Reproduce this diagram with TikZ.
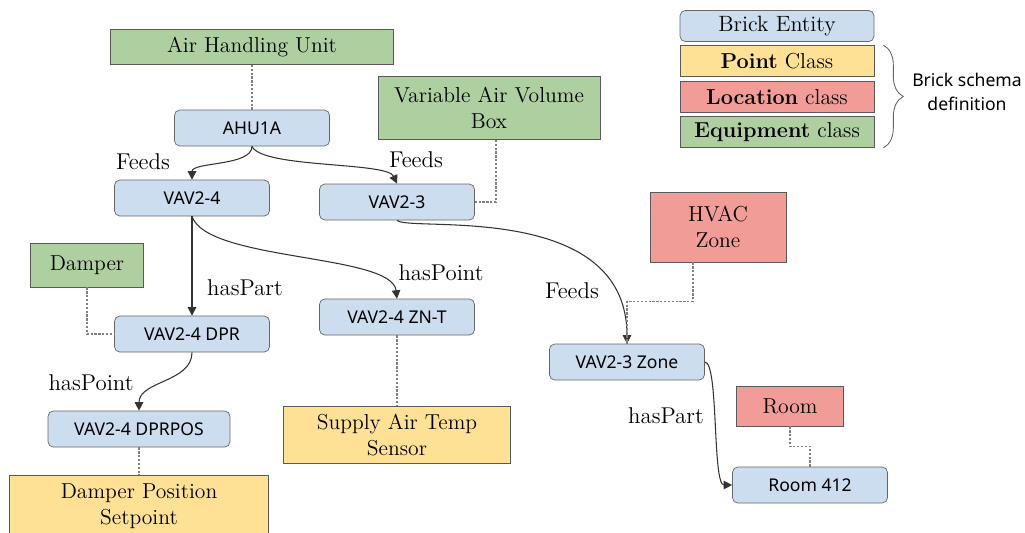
\documentclass[tikz,border=0pt]{standalone}
\usepackage{fontspec}
\usepackage{xcolor}
\newfontfamily\entityfont{Noto Sans}
\usetikzlibrary{arrows.meta, positioning, decorations.pathreplacing}

\definecolor{entityblue}{RGB}{204,221,240}
\definecolor{pointyellow}{RGB}{255,225,150}
\definecolor{locred}{RGB}{241,156,151}
\definecolor{equipgreen}{RGB}{174,207,160}

\begin{document}
\begin{tikzpicture}[x=0.02cm, y=-0.02cm,
  entity/.style={draw=black!60, fill=entityblue, rounded corners=3pt, minimum width=3.1cm,
    minimum height=0.72cm, inner sep=0pt, font=\entityfont\fontsize{10}{12}\selectfont},
  cls/.style={draw=black!65, minimum height=0.7cm, inner sep=0pt, align=center,
    font=\fontsize{12.3}{14.5}\selectfont},
  pointcls/.style={cls, fill=pointyellow},
  loccls/.style={cls, fill=locred},
  equipcls/.style={cls, fill=equipgreen},
  legend/.style={minimum width=3.88cm, minimum height=0.62cm},
  rel/.style={-{Triangle[length=4.8pt,width=4.8pt]}, black!80, line width=0.6pt},
  link/.style={dash pattern=on 1.3pt off 0.9pt, black!50, line width=0.6pt},
  lbl/.style={font=\fontsize{13}{15}\selectfont, inner sep=0pt}
]
\useasboundingbox[fill=white] (0,0) rectangle (1025,532);

% ========== left branch: AHU1A and VAV2-4 ==========
\node[equipcls, minimum width=5.66cm] (ahuclass) at (252,47) {Air Handling Unit};
\node[entity] (ahu) at (252,128) {AHU1A};
\node[entity] (vav24) at (192,198) {VAV2-4};
\node[equipcls, minimum width=2.26cm, minimum height=0.88cm] (dmpclass) at (87,265) {Damper};
\node[entity] (dpr) at (192,334) {VAV2-4 DPR};
\node[entity, minimum width=3.64cm] (dprpos) at (139,429) {VAV2-4 DPRPOS};
\node[pointcls, minimum width=5.18cm, minimum height=1.24cm] (dpsclass) at (139,506) {Damper Position\\Setpoint};
\node[entity] (znt) at (397,317) {VAV2-4 ZN-T};
\node[pointcls, minimum width=4.54cm, minimum height=1.14cm] (satclass) at (397,435) {Supply Air Temp\\Sensor};

% ========== right branch: VAV2-3 and its zone ==========
\node[equipcls, minimum width=4.44cm, minimum height=1.26cm] (vavclass) at (489,108) {Variable Air Volume\\Box};
\node[entity] (vav23) at (397,202) {VAV2-3};
\node[loccls, minimum width=2.72cm, minimum height=1.4cm] (hvacclass) at (718,227) {HVAC\\Zone};
\node[entity] (zone) at (627,362) {VAV2-3 Zone};
\node[loccls, minimum width=2.14cm, minimum height=0.8cm] (roomclass) at (790,406) {Room};
\node[entity] (room) at (810,485) {Room 412};

% relation labels
\node[lbl] (feedsa) at (143,162) {Feeds};
\node[lbl] (feedsb) at (416,160) {Feeds};
\node[lbl] (partdpr) at (245,288) {hasPart};
\node[lbl] (pointznt) at (441,273) {hasPoint};
\node[lbl] (pointpos) at (91,383) {hasPoint};
\node[lbl] (feedsc) at (572,291) {Feeds};
\node[lbl] (partroom) at (666,416) {hasPart};

% Relations
\draw[rel] (ahu.south) .. controls +(0,20) and +(0,-18) .. (vav24.north);
\draw[rel] (ahu.south) .. controls +(10,22) and +(-10,-22) .. (vav23.north);
\draw[rel] (vav24.south) -- (dpr.north);
\draw[rel] (vav24.south) .. controls +(15,45) and +(-5,-45) .. (znt.north);
\draw[rel] (dpr.south) .. controls +(0,30) and +(0,-30) .. (dprpos.north);
\draw[rel] (vav23.south) .. controls +(13,12) and +(0,-144) .. (zone.north);
\draw[rel] (zone.east) .. controls +(14,0) and +(-20,0) .. (room.west);

% Class links (dashed)
\draw[link] (ahuclass) -- (ahu);
\draw[link] ([xshift=0.14cm]vavclass.south) |- (vav23.east);
\draw[link] (dmpclass.south) |- (dpr.west);
\draw[link] (dprpos) -- (dpsclass);
\draw[link] (znt) -- (satclass);
\draw[link] ([xshift=-0.5cm]hvacclass.south) -- ++(0,39) -| (zone.north);
\draw[link] (roomclass.south) -- ++(0,20) -| (room.north);

% ========== legend ==========
\node[entity, legend, font=\fontsize{12.6}{14}\selectfont] (lgentity) at (777,26) {Brick Entity};
\node[pointcls, legend] (lgpoint) at (777,61) {\textbf{Point} Class};
\node[loccls, legend] (lgloc) at (777,97) {\textbf{Location} class};
\node[equipcls, legend] (lgequip) at (777,132) {\textbf{Equipment} class};
\draw[decorate, decoration={brace, amplitude=0.4cm}, black!60, line width=0.5pt]
  ([xshift=0.18cm]lgpoint.north east) -- ([xshift=0.18cm]lgequip.south east);
\node[font=\entityfont\fontsize{10}{13.6}\selectfont, align=center] (schema) at (967,92) {Brick schema\\definition};

\end{tikzpicture}
\end{document}
